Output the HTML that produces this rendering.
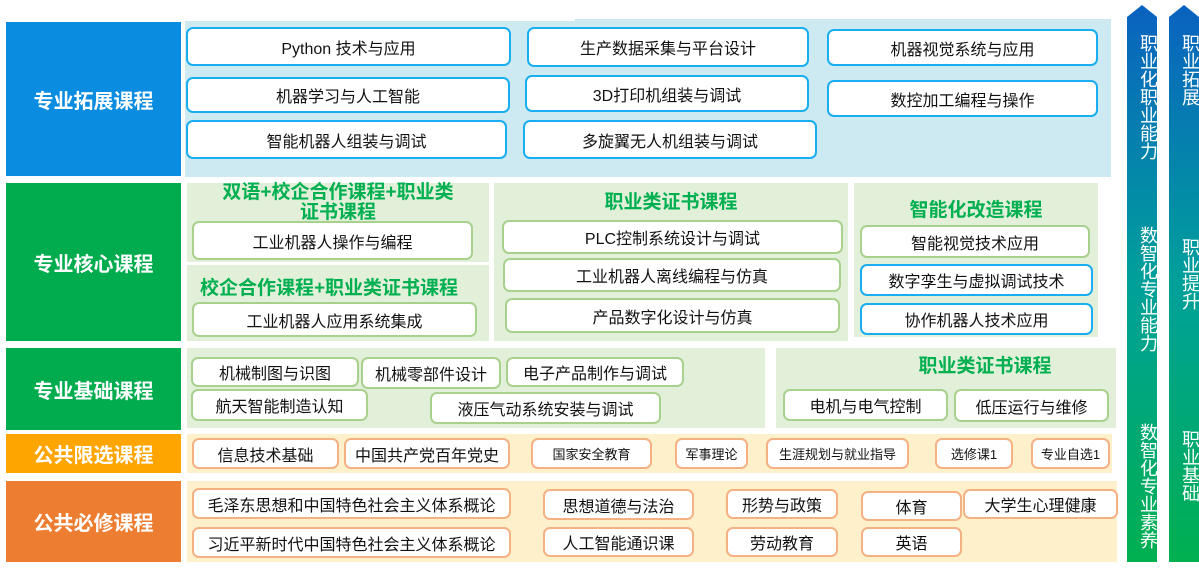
<!DOCTYPE html>
<html><head><meta charset="utf-8"><style>
*{margin:0;padding:0;box-sizing:border-box}
body{width:1199px;height:570px;background:#fff;position:relative;overflow:hidden;font-family:"Liberation Sans","Noto Sans CJK SC",sans-serif}
div{position:absolute}
.l{color:#fff;font-weight:bold;font-size:20px;display:flex;align-items:center;justify-content:center}
.b{background:#fff;border-radius:7px;display:flex;align-items:center;justify-content:center;font-size:16px;color:#111;white-space:nowrap}
.bl{border:2px solid #19aeef}
.gr{border:2px solid #a9d18e}
.pe{border:2px solid #f4b183}
.t{color:#00b050;font-weight:bold;font-size:19px;text-align:center;line-height:20px}
.v{color:#fff;font-size:18px;width:30px;text-align:center;line-height:18px;writing-mode:vertical-rl;letter-spacing:0}
.s{font-size:13px}
</style></head><body>
<!-- row1 -->
<div class="l" style="left:6px;top:22px;width:175px;height:154px;background:#0a8ce0">专业拓展课程</div>
<div style="left:185px;top:21px;width:390px;height:156px;background:#cdeaf3"></div>
<div style="left:575px;top:19px;width:536px;height:158px;background:#cdeaf3"></div>
<div class="b bl" style="left:186px;top:27px;width:325px;height:39px">Python 技术与应用</div>
<div class="b bl" style="left:527px;top:27px;width:282px;height:40px">生产数据采集与平台设计</div>
<div class="b bl" style="left:827px;top:29px;width:271px;height:37px">机器视觉系统与应用</div>
<div class="b bl" style="left:186px;top:77px;width:324px;height:36px">机器学习与人工智能</div>
<div class="b bl" style="left:525px;top:75px;width:284px;height:37px">3D打印机组装与调试</div>
<div class="b bl" style="left:827px;top:80px;width:271px;height:37px">数控加工编程与操作</div>
<div class="b bl" style="left:186px;top:120px;width:321px;height:39px">智能机器人组装与调试</div>
<div class="b bl" style="left:523px;top:120px;width:294px;height:39px">多旋翼无人机组装与调试</div>
<!-- row2 -->
<div class="l" style="left:6px;top:183px;width:175px;height:158px;background:#00ac4e">专业核心课程</div>
<div style="left:187px;top:183px;width:302px;height:79px;background:#e2efd9"></div>
<div style="left:187px;top:265px;width:302px;height:76px;background:#e2efd9"></div>
<div style="left:494px;top:183px;width:354px;height:158px;background:#e2efd9"></div>
<div style="left:854px;top:183px;width:244px;height:154px;background:#e2efd9"></div>
<div class="t" style="left:187px;top:183px;width:302px">双语+校企合作课程+职业类<br>证书课程</div>
<div class="b gr" style="left:192px;top:221px;width:281px;height:39px">工业机器人操作与编程</div>
<div class="t" style="left:187px;top:279px;width:284px">校企合作课程+职业类证书课程</div>
<div class="b gr" style="left:192px;top:302px;width:285px;height:35px">工业机器人应用系统集成</div>
<div class="t" style="left:494px;top:193px;width:354px">职业类证书课程</div>
<div class="b gr" style="left:502px;top:220px;width:341px;height:34px">PLC控制系统设计与调试</div>
<div class="b gr" style="left:503px;top:258px;width:338px;height:34px">工业机器人离线编程与仿真</div>
<div class="b gr" style="left:505px;top:298px;width:335px;height:35px">产品数字化设计与仿真</div>
<div class="t" style="left:854px;top:201px;width:244px">智能化改造课程</div>
<div class="b gr" style="left:860px;top:225px;width:230px;height:33px">智能视觉技术应用</div>
<div class="b bl" style="left:860px;top:264px;width:233px;height:32px">数字孪生与虚拟调试技术</div>
<div class="b bl" style="left:860px;top:303px;width:233px;height:32px">协作机器人技术应用</div>
<!-- row3 -->
<div class="l" style="left:6px;top:348px;width:175px;height:82px;background:#00ac4e">专业基础课程</div>
<div style="left:187px;top:348px;width:578px;height:80px;background:#e2efd9"></div>
<div style="left:776px;top:348px;width:340px;height:80px;background:#e2efd9"></div>
<div class="b gr" style="left:191px;top:357px;width:168px;height:30px">机械制图与识图</div>
<div class="b gr" style="left:361px;top:357px;width:140px;height:32px">机械零部件设计</div>
<div class="b gr" style="left:506px;top:357px;width:178px;height:30px">电子产品制作与调试</div>
<div class="b gr" style="left:191px;top:389px;width:177px;height:32px">航天智能制造认知</div>
<div class="b gr" style="left:430px;top:392px;width:231px;height:32px">液压气动系统安装与调试</div>
<div class="t" style="left:860px;top:357px;width:250px">职业类证书课程</div>
<div class="b gr" style="left:783px;top:389px;width:165px;height:32px">电机与电气控制</div>
<div class="b gr" style="left:954px;top:389px;width:155px;height:33px">低压运行与维修</div>
<!-- row4 -->
<div class="l" style="left:6px;top:434px;width:175px;height:39px;background:#ffa500">公共限选课程</div>
<div style="left:187px;top:434px;width:925px;height:39px;background:#fff0cc"></div>
<div class="b pe" style="left:192px;top:438px;width:147px;height:31px">信息技术基础</div>
<div class="b pe" style="left:344px;top:438px;width:166px;height:31px">中国共产党百年党史</div>
<div class="b pe s" style="left:531px;top:438px;width:121px;height:31px">国家安全教育</div>
<div class="b pe s" style="left:675px;top:438px;width:73px;height:31px">军事理论</div>
<div class="b pe s" style="left:766px;top:438px;width:143px;height:31px">生涯规划与就业指导</div>
<div class="b pe s" style="left:935px;top:438px;width:78px;height:31px">选修课1</div>
<div class="b pe s" style="left:1031px;top:438px;width:79px;height:31px">专业自选1</div>
<!-- row5 -->
<div class="l" style="left:6px;top:481px;width:175px;height:81px;background:#ed7d31">公共必修课程</div>
<div style="left:187px;top:481px;width:930px;height:81px;background:#fff0cc"></div>
<div class="b pe" style="left:192px;top:488px;width:319px;height:31px">毛泽东思想和中国特色社会主义体系概论</div>
<div class="b pe" style="left:192px;top:527px;width:319px;height:31px">习近平新时代中国特色社会主义体系概论</div>
<div class="b pe" style="left:543px;top:489px;width:151px;height:31px">思想道德与法治</div>
<div class="b pe" style="left:543px;top:527px;width:151px;height:30px">人工智能通识课</div>
<div class="b pe" style="left:726px;top:489px;width:112px;height:30px">形势与政策</div>
<div class="b pe" style="left:726px;top:527px;width:112px;height:30px">劳动教育</div>
<div class="b pe" style="left:861px;top:491px;width:101px;height:30px">体育</div>
<div class="b pe" style="left:861px;top:527px;width:101px;height:30px">英语</div>
<div class="b pe" style="left:963px;top:489px;width:155px;height:30px">大学生心理健康</div>
<!-- arrows -->
<svg style="position:absolute;left:0;top:0" width="1199" height="570">
<defs><linearGradient id="g" x1="0" y1="0" x2="0" y2="1">
<stop offset="0" stop-color="#0a62c0"/><stop offset="0.5" stop-color="#00a09a"/><stop offset="1" stop-color="#00b050"/></linearGradient></defs>
<polygon points="1127,17 1142,5 1157,17 1157,562 1127,562" fill="url(#g)"/>
<polygon points="1169,17 1184,5 1199,17 1199,562 1169,562" fill="url(#g)"/>
</svg>
<div class="v" style="left:1127px;top:34px">职业化职业能力</div>
<div class="v" style="left:1127px;top:226px">数智化专业能力</div>
<div class="v" style="left:1127px;top:423px">数智化专业素养</div>
<div class="v" style="left:1169px;top:34px">职业拓展</div>
<div class="v" style="left:1169px;top:238px">职业提升</div>
<div class="v" style="left:1169px;top:430px">职业基础</div>
</body></html>
